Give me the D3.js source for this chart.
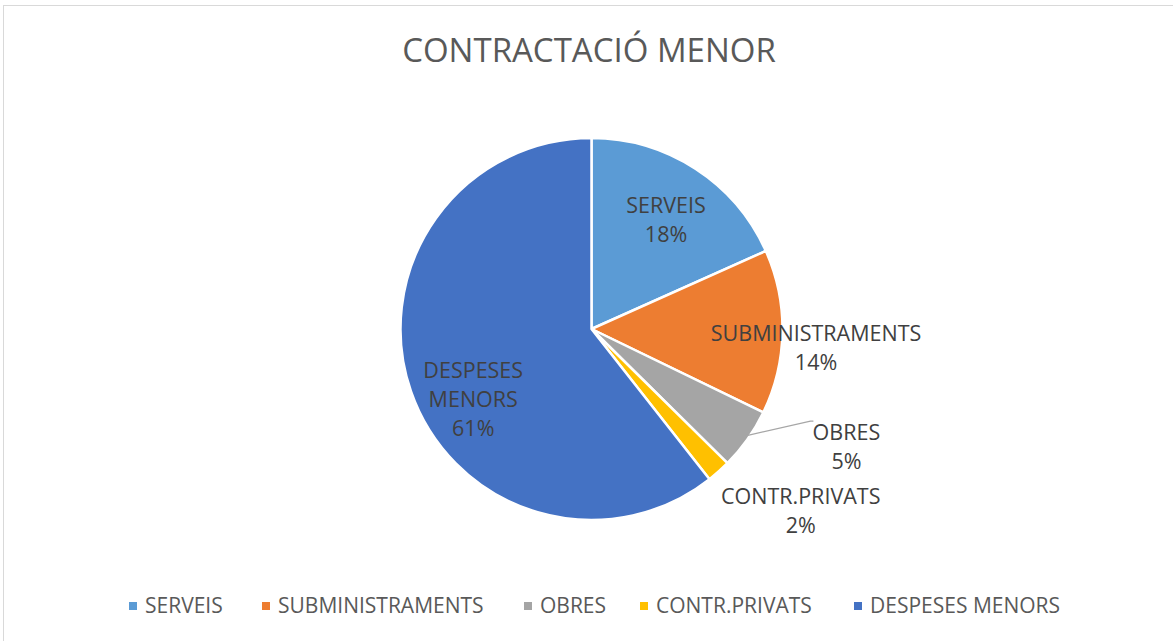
<!DOCTYPE html>
<html><head><meta charset="utf-8">
<script src="https://cdn.jsdelivr.net/npm/d3@7"></script>
<style>body{margin:0;background:#fff}svg{display:block}</style>
</head><body>
<svg id="chart" width="1173" height="641"></svg>
<script>
// ---- data ----
const categories = ["SERVEIS", "SUBMINISTRAMENTS", "OBRES", "CONTR.PRIVATS", "DESPESES MENORS"];
const values = [18.3, 13.9, 5.2, 2.0, 60.6];
const colors = ["#5b9bd5", "#ed7d31", "#a5a5a5", "#ffc000", "#4472c4"];
const labelLines = [["SERVEIS"], ["SUBMINISTRAMENTS"], ["OBRES"], ["CONTR.PRIVATS"], ["DESPESES", "MENORS"]];
const title = "CONTRACTACIÓ MENOR";

// ---- layout ----
const W = 1173, H = 641;
const cx = 591.5, cy = 329, R = 191;
// label placement: radius factor and angular nudge (degrees) relative to slice mid-angle
const labelPlace = [{k:0.69, da:1.5}, {k:1.18, da:4}, {k:1.47, da:-10.5}, {k:1.45, da:-7.3}, {k:0.72, da:-11.6}];
const leader = [false, false, true, false, false];

const svg = d3.select("#chart");
const font = "'Open Sans', sans-serif";

// frame
svg.append("rect").attr("x", 3.5).attr("y", 5.5).attr("width", W + 10).attr("height", H + 10)
  .attr("fill", "#fff").attr("stroke", "#d9d9d9").attr("stroke-width", 1);

// title
svg.append("text").attr("x", 589).attr("y", 62).attr("text-anchor", "middle")
  .attr("font-family", font).attr("font-size", 33).attr("fill", "#595959").text(title);

const data = categories.map((c, i) => ({name: c, value: values[i], i}));
const pie = d3.pie().value(d => d.value).sort(null);
const arcs = pie(data);
const arc = d3.arc().innerRadius(0).outerRadius(R);

const g = svg.append("g").attr("transform", `translate(${cx},${cy})`);
g.selectAll("path.slice").data(arcs).join("path").attr("class", "slice")
  .attr("d", arc).attr("fill", d => colors[d.data.i])
  .attr("stroke", "#fff").attr("stroke-width", 2.5).attr("stroke-linejoin", "round");

const total = d3.sum(values);
const pct = d3.format(".0%");

arcs.forEach(a => {
  const i = a.data.i;
  const mid = (a.startAngle + a.endAngle) / 2;
  const ang = mid + labelPlace[i].da * Math.PI / 180;
  const rr = R * labelPlace[i].k;
  const lx = rr * Math.sin(ang), ly = -rr * Math.cos(ang);
  const lines = labelLines[i].concat([pct(a.data.value / total)]);
  const lh = 29;
  const y0 = ly - (lines.length - 1) * lh / 2;
  if (leader[i]) {
    const ex = R * Math.sin(mid), ey = -R * Math.cos(mid);
    g.append("polyline")
      .attr("points", `${ex - 4},${ey - 3} ${lx - 36},${y0 - 11} ${lx - 33},${y0 - 11}`)
      .attr("fill", "none").attr("stroke", "#a6a6a6").attr("stroke-width", 1.3);
  }
  const t = g.append("text").attr("text-anchor", "middle")
    .attr("font-family", font).attr("font-size", 21.5).attr("fill", "#404040");
  lines.forEach((l, j) => {
    t.append("tspan").attr("x", lx).attr("y", y0 + j * lh).attr("dy", "0.35em").text(l);
  });
});

// legend
const legendX = [129, 262, 524, 640, 854];
const lg = svg.append("g").attr("transform", "translate(0,606)");
categories.forEach((c, i) => {
  lg.append("rect").attr("x", legendX[i]).attr("y", -4).attr("width", 8).attr("height", 8).attr("fill", colors[i]);
  lg.append("text").attr("x", legendX[i] + 16).attr("y", 0).attr("dy", "0.35em")
    .attr("font-family", font).attr("font-size", 21).attr("fill", "#595959").text(c);
});
</script>
</body></html>
